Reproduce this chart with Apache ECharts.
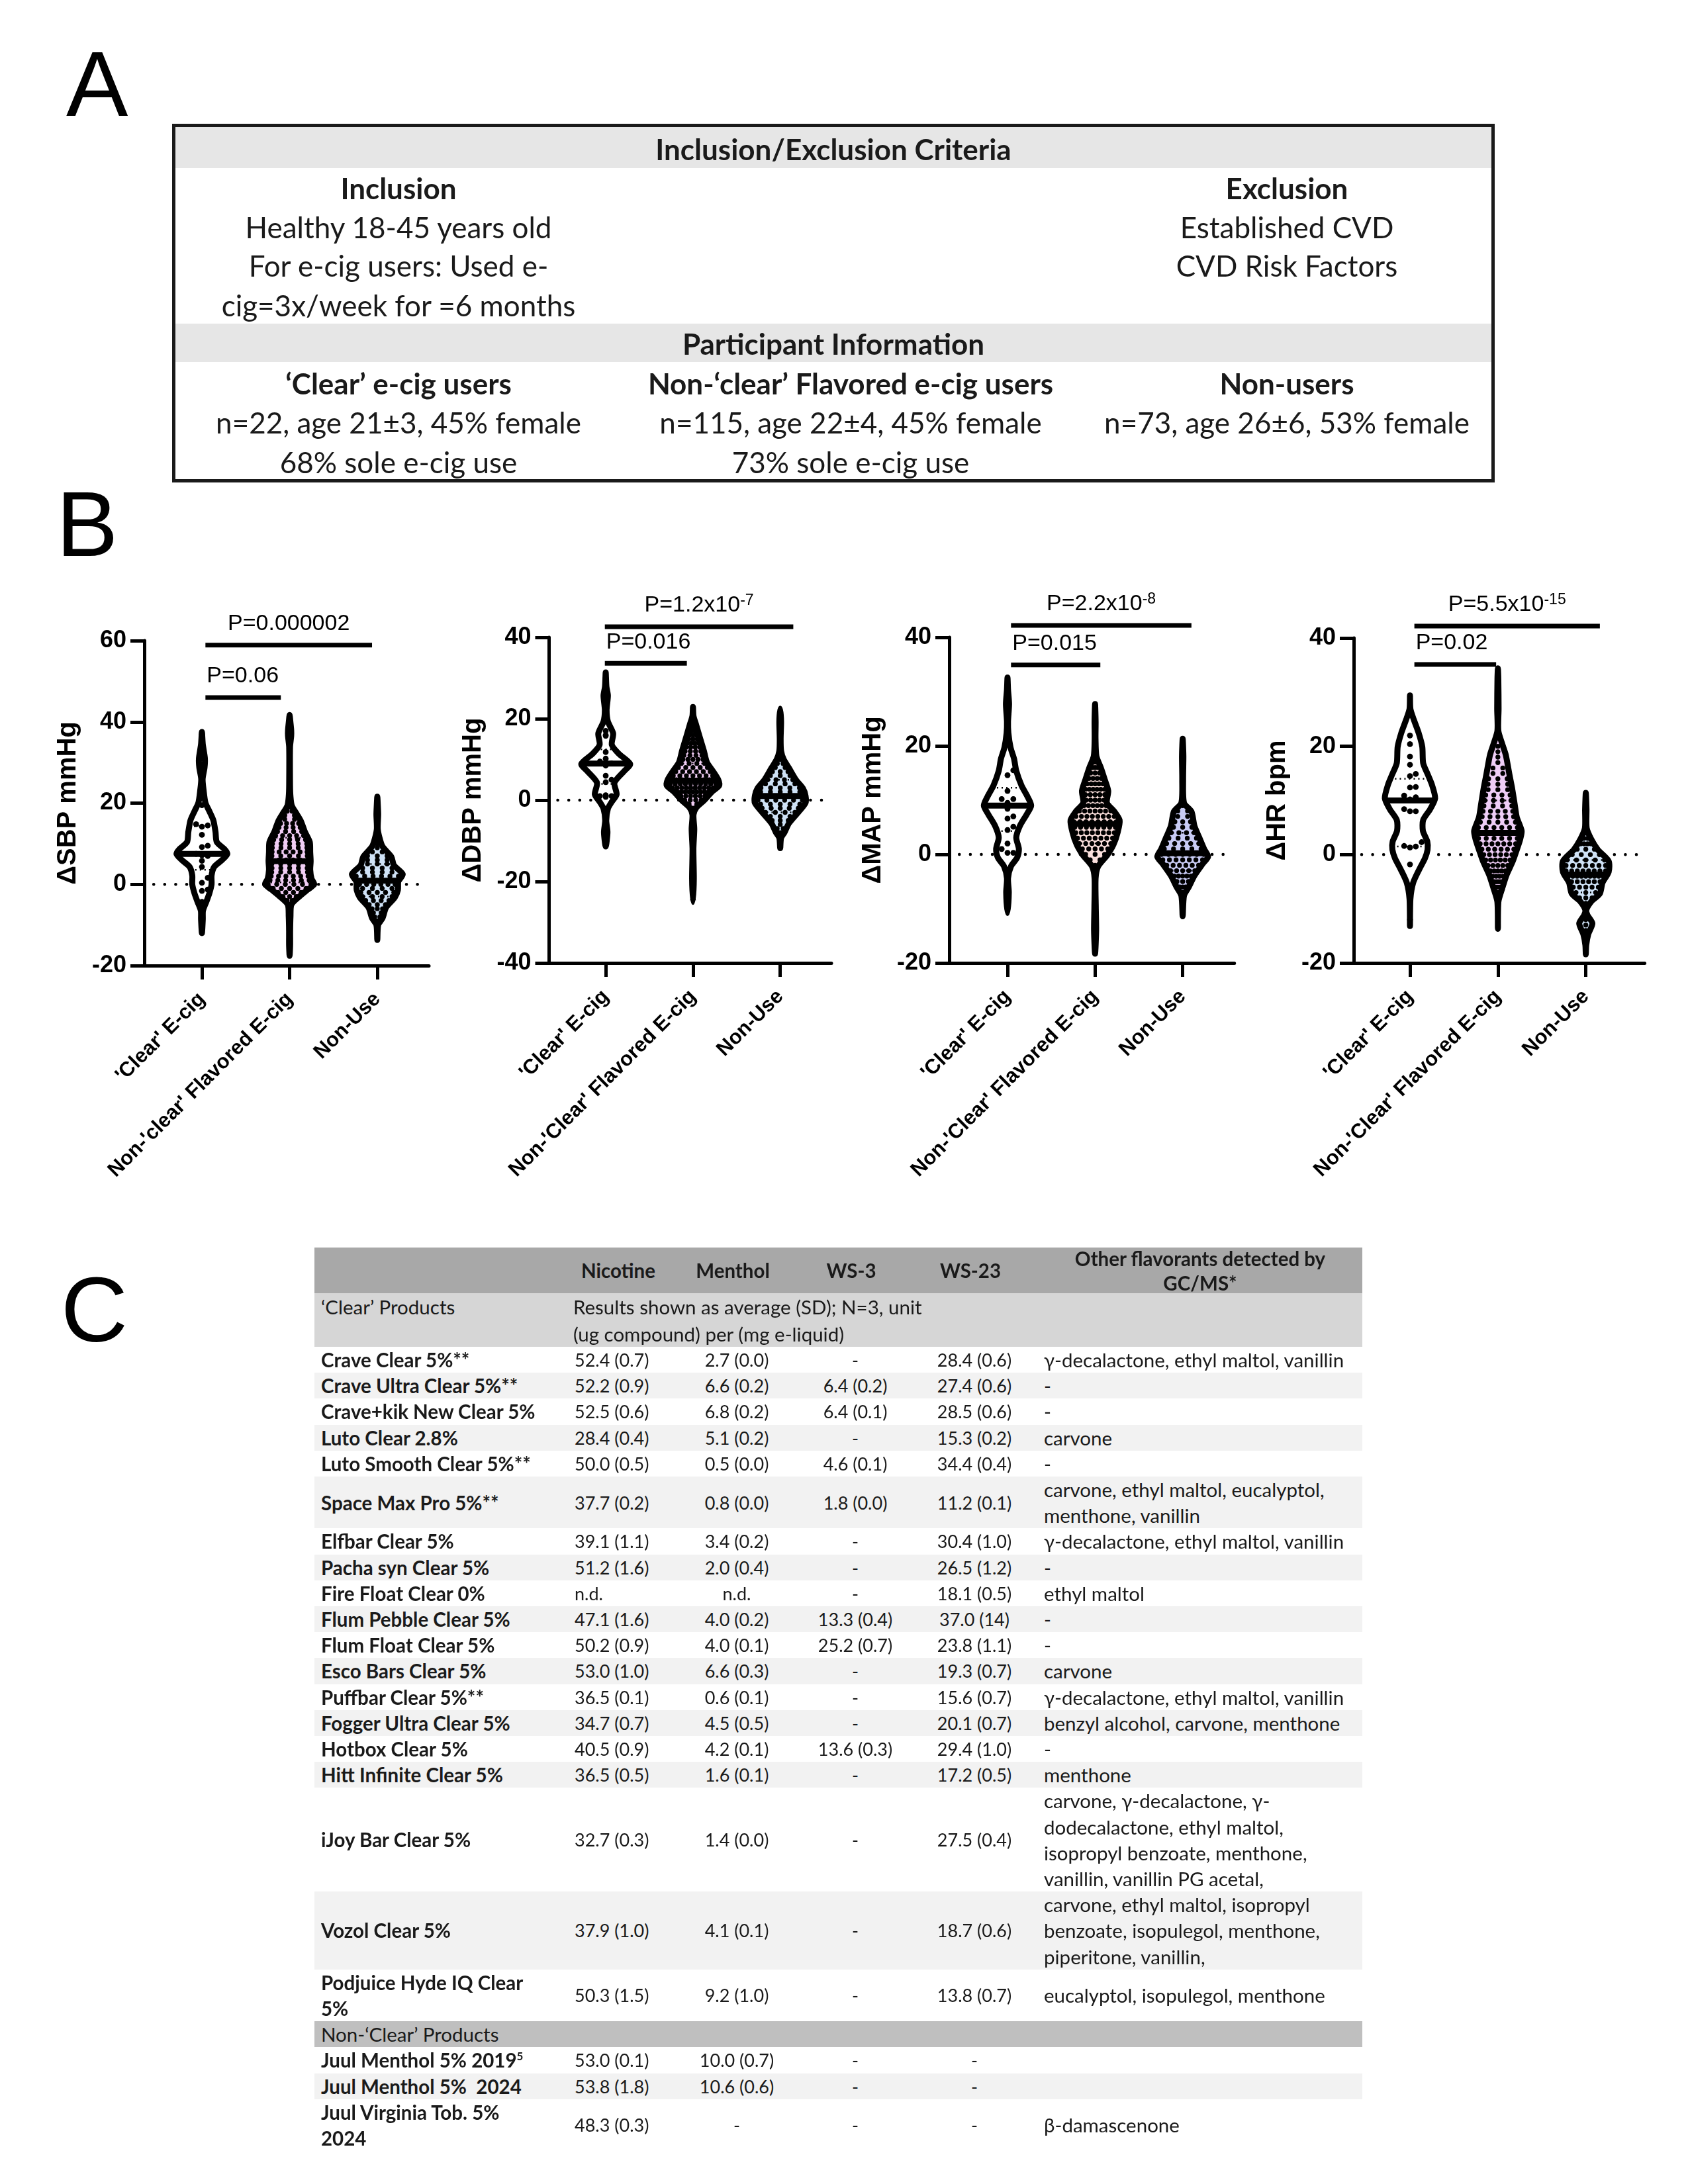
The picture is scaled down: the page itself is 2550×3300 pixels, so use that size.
<!DOCTYPE html>
<html><head><meta charset="utf-8">
<script src="https://cdn.jsdelivr.net/npm/echarts@6.0.0/dist/echarts.min.js"></script>
<style>
html,body{margin:0;padding:0;background:#fff}
body{width:2550px;height:3300px;position:relative;overflow:hidden}
#chart{position:absolute;left:0;top:0;width:2550px;height:3300px;z-index:0}
.abs{position:absolute;white-space:nowrap}
.lbl{font-family:'Liberation Sans',Arial,sans-serif;font-size:140px;line-height:140px;color:#000;z-index:3}
.ta{font-family:Lato,'Open Sans',sans-serif;font-size:44px;color:#1a1a1a;text-align:center;z-index:3}
.tc{font-family:Lato,'Open Sans',sans-serif;font-size:29.5px;color:#1a1a1a;z-index:3}
.num{font-size:27px}
.bg{z-index:2}
sup{font-size:17px;line-height:0;vertical-align:super}
</style></head><body>
<div id="chart"></div>
<script>
// ================= DATA =================
// ---- Panel A ----
const criteriaTitle = "Inclusion/Exclusion Criteria";
const inclusionHead = "Inclusion";
const inclusionLines = ["Healthy 18-45 years old", "For e-cig users: Used e-", "cig=3x/week for =6 months"];
const exclusionHead = "Exclusion";
const exclusionLines = ["Established CVD", "CVD Risk Factors"];
const participantTitle = "Participant Information";
const groupHeads = ["‘Clear’ e-cig users", "Non-‘clear’ Flavored e-cig users", "Non-users"];
const groupInfo1 = ["n=22, age 21±3, 45% female", "n=115, age 22±4, 45% female", "n=73, age 26±6, 53% female"];
const groupInfo2 = ["68% sole e-cig use", "73% sole e-cig use", ""];

// ---- Panel B ----
const catsSBP = ["'Clear' E-cig", "Non-'clear' Flavored E-cig", "Non-Use"];
const catsOther = ["'Clear' E-cig", "Non-'Clear' Flavored E-cig", "Non-Use"];
const yTitles = ["ΔSBP mmHg", "ΔDBP mmHg", "ΔMAP mmHg", "ΔHR bpm"];
const yMins = [-20, -40, -20, -20];
const yMaxs = [60, 40, 40, 40];
const yTickStep = 20;
const binWidth = 1;

// violin outlines: [value, half-width in category units], bottom to top
const sbpClearOutline = [[-12,0],[-8.6,0.01],[-6.5,0.012],[-4.3,0.05],[-2.2,0.085],[0,0.11],[2.2,0.11],[4.3,0.14],[6.1,0.235],[7.5,0.29],[8.6,0.26],[10.4,0.17],[12.9,0.155],[15.8,0.13],[18,0.085],[20.1,0.04],[23,0.02],[25.9,0.008],[28.8,0.03],[31,0.034],[34.5,0.01],[37.5,0]];
const sbpNonClearOutline = [[-17.6,0],[-15,0.006],[-11.5,0.006],[-7.9,0.01],[-5,0.02],[-3.2,0.1],[-1.4,0.2],[0,0.28],[1.4,0.25],[3.6,0.235],[5.7,0.24],[7.9,0.235],[10.4,0.23],[12.9,0.175],[15.5,0.13],[17.2,0.085],[19.4,0.025],[21.6,0.01],[24.4,0.005],[33.8,0.005],[36.5,0.018],[38,0.018],[40.2,0.008],[41.7,0]];
const sbpNonUseOutline = [[-13.7,0],[-10,0.01],[-8.3,0.06],[-5.7,0.1],[-3.2,0.2],[-1.4,0.235],[0.7,0.24],[2.5,0.29],[4.7,0.19],[6.8,0.16],[9.3,0.06],[11.5,0.025],[13.7,0.005],[17.2,0.01],[19.5,0.006],[21.6,0]];
const dbpClearOutline = [[-11.4,0],[-7.9,0.02],[-5,0.006],[-2.1,0.025],[-0.4,0.07],[1.4,0.125],[4.3,0.1],[7.1,0.21],[8.9,0.28],[11.4,0.15],[13.6,0.07],[16.4,0.085],[19.3,0.025],[22.1,0.01],[25.7,0.025],[27.9,0.008],[31.4,0]];
const dbpNonClearOutline = [[-25,0],[-19.3,0.01],[-12,0.005],[-7.1,0.015],[-3.6,0.006],[-1.8,0.04],[0,0.13],[2.1,0.22],[3.6,0.3],[5,0.29],[7.1,0.23],[9.3,0.16],[12.1,0.125],[15.7,0.075],[18.6,0.035],[20.7,0.006],[22.9,0]];
const dbpNonUseOutline = [[-11.8,0],[-9.3,0.01],[-7.9,0.05],[-5.7,0.1],[-2.9,0.21],[-0.7,0.29],[1.1,0.29],[2.9,0.26],[5,0.18],[7.9,0.1],[10,0.04],[12.1,0.01],[15,0.005],[19.3,0.01],[22.5,0]];
const mapClearOutline = [[-10.8,0],[-7,0.015],[-4.4,0.006],[-2.2,0.04],[-0.6,0.11],[1,0.13],[3.1,0.1],[5.2,0.14],[7.4,0.22],[9,0.27],[10.6,0.23],[12.7,0.16],[15.4,0.1],[17.6,0.075],[19.7,0.035],[22.4,0.01],[24.5,0.006],[27.7,0.018],[30.4,0.006],[32.6,0]];
const mapNonClearOutline = [[-18.3,0],[-14,0.012],[-9.7,0.008],[-4.4,0.006],[-2.2,0.035],[-0.1,0.14],[1.8,0.21],[4.2,0.26],[6.3,0.28],[7.9,0.22],[9.5,0.135],[11.7,0.15],[13.8,0.11],[16,0.065],[18.1,0.015],[21.3,0.005],[24.5,0.006],[27.7,0]];
const mapNonUseOutline = [[-11.4,0],[-7.6,0.015],[-6,0.07],[-3.9,0.135],[-1.7,0.23],[-0.4,0.29],[1,0.245],[3.1,0.19],[5.2,0.135],[7.9,0.1],[9.5,0.015],[13.8,0.005],[18.1,0.008],[21.3,0]];
const hrClearOutline = [[-13.2,0],[-8.2,0.005],[-5.2,0.036],[-2.7,0.106],[-0.7,0.17],[0.9,0.2],[2.4,0.197],[4.4,0.147],[6.4,0.15],[8.4,0.23],[10.4,0.286],[12.9,0.25],[14.9,0.2],[16.9,0.15],[19.9,0.14],[22.4,0.1],[24.9,0.044],[26.9,0.005],[29.4,0]];
const hrNonClearOutline = [[-13.7,0],[-8.7,0.006],[-6.2,0.05],[-3.7,0.1],[-1.2,0.17],[0.9,0.215],[2.9,0.255],[4.4,0.27],[6.9,0.215],[9.4,0.19],[12.4,0.16],[14.9,0.13],[18.4,0.09],[20.4,0.05],[22.9,0.005],[26.9,0.008],[32.4,0.005],[34.4,0]];
const hrNonUseOutline = [[-18.4,0],[-16.7,0.005],[-14.7,0.028],[-12.7,0.075],[-11.2,0.02],[-10.2,0.006],[-8.7,0.06],[-7.2,0.16],[-5.2,0.19],[-3.2,0.26],[-1.2,0.26],[0.9,0.137],[2.9,0.06],[4.9,0.01],[8.4,0.008],[11.4,0]];

// individual points of the 'Clear' groups
const sbpClearDots = [37,31,29.5,22,19.5,14.8,14.5,14.2,12.2,9.5,9.2,7.5,7.2,7,5.8,4.3,1.6,0.4,-1.3,-1.6,-4.3,-11];
const dbpClearDots = [30,26.5,23,17,16,15.8,11.8,10.2,9.5,9,8.5,6,5,4.4,1.2,1.1,1,1,0.8,-4.5,-6,-10.5];
const mapClearDots = [31,27,26,21,15.5,14.6,11.7,10.2,10.2,9.5,8.4,7,6.6,5.1,4.5,2,1,0.3,0.3,-5,-7,-10];
const hrClearDots = [27,22,20.4,18.1,16.6,14.9,14.5,12.5,12.4,10.9,10.6,10.2,8.4,8,8,2.3,1.6,1.5,1.3,-1.8,-6.5,-12];

// point counts per 1-unit bin (first bin centre given) for the larger groups
const sbpNonClearBinStart = -17, sbpNonClearCounts = [1,0,0,0,1,0,1,0,1,0,1,1,2,2,3,4,5,6,6,6,5,5,5,6,5,6,5,5,5,5,4,4,4,2,2,2,1,1,1,0,0,0,0,0,0,0,0,0,0,0,0,0,0,1,0,0,0,0,1];
const sbpNonUseBinStart = -13, sbpNonUseCounts = [1,0,1,1,1,2,2,3,3,4,4,5,4,6,4,6,4,4,3,3,3,2,1,1,1,1,0,0,0,1,0,1,0,0,1];
const dbpNonClearBinStart = -24, dbpNonClearCounts = [1,0,0,0,1,0,0,0,0,0,0,0,0,0,0,0,1,0,1,0,1,1,1,2,4,6,9,10,10,9,7,6,5,4,5,4,4,4,4,3,3,2,2,2,1,1,1,0];
const dbpNonUseBinStart = -11, dbpNonUseCounts = [1,1,1,2,2,1,3,3,4,5,5,6,6,5,5,4,4,3,3,2,2,1,1,1,0,0,0,0,0,1,0,1];
const mapNonClearBinStart = -18, mapNonClearCounts = [1,0,0,0,1,0,0,0,1,0,0,0,1,1,1,2,1,2,3,5,6,7,8,8,8,8,7,6,5,5,6,5,4,3,3,1,1,1,1,0,1,0,1,0,1];
const mapNonUseBinStart = -10, mapNonUseCounts = [1,0,2,2,3,3,5,5,6,7,7,5,5,4,4,3,3,2,2,1,0,0,0,0,1,0,0,0,1,0,1];
const hrNonClearBinStart = -12, hrNonClearCounts = [1,0,1,0,1,2,3,4,4,5,5,6,6,6,7,6,6,6,5,5,5,4,4,4,3,3,3,2,2,1,1,1,1,0,0,0,0,0,0,0,1,0,0,0,0,0,1];
const hrNonUseBinStart = -18, hrNonUseCounts = [1,0,0,0,1,1,1,1,1,1,3,3,5,6,9,8,7,5,4,3,4,2,2,1,1,1,1,1,1];

// medians and quartiles [Clear, Non-clear, Non-use]
const sbpMedians = [7.5, 5.7, 0.9], sbpQ1 = [3.6, 0.5, -3], sbpQ3 = [14.3, 11.5, 5];
const dbpMedians = [9, 4.8, 1], dbpQ1 = [4, 2, -3], dbpQ3 = [12.5, 9, 5];
const mapMedians = [9, 5.6, 0.2], mapQ1 = [4.3, 2, -3], mapQ3 = [12.3, 11, 4];
const hrMedians = [10, 4, -3.7], hrQ1 = [1.5, -2, -7], hrQ3 = [14, 10, -1];

// significance brackets: [text, superscript, fromX, toX, level]
const sbpBrackets = [["P=0.06", "", 1.04, 1.90, 46], ["P=0.000002", "", 1.04, 2.94, 58.9]];
const dbpBrackets = [["P=0.016", "", 0.99, 1.93, 33.6], ["P=1.2x10", "-7", 0.99, 3.15, 42.6]];
const mapBrackets = [["P=0.015", "", 1.04, 2.06, 34.9], ["P=2.2x10", "-8", 1.04, 3.10, 42.2]];
const hrBrackets = [["P=0.02", "", 1.05, 1.98, 35.1], ["P=5.5x10", "-15", 1.05, 3.16, 42.2]];

// ---- Panel C ----
const tableHeads = ["Nicotine", "Menthol", "WS-3", "WS-23", "Other flavorants detected by<br>GC/MS*"];
const clearBandLabel = "‘Clear’ Products";
const clearBandNote = ["Results shown as average (SD); N=3, unit", "(ug compound) per (mg e-liquid)"];
const nonClearBandLabel = "Non-‘Clear’ Products";
const clearProducts = [
  ["Crave Clear 5%**", "52.4 (0.7)", "2.7 (0.0)", "-", "28.4 (0.6)", ["γ-decalactone, ethyl maltol, vanillin"]],
  ["Crave Ultra Clear 5%**", "52.2 (0.9)", "6.6 (0.2)", "6.4 (0.2)", "27.4 (0.6)", ["-"]],
  ["Crave+kik New Clear 5%", "52.5 (0.6)", "6.8 (0.2)", "6.4 (0.1)", "28.5 (0.6)", ["-"]],
  ["Luto Clear 2.8%", "28.4 (0.4)", "5.1 (0.2)", "-", "15.3 (0.2)", ["carvone"]],
  ["Luto Smooth Clear 5%**", "50.0 (0.5)", "0.5 (0.0)", "4.6 (0.1)", "34.4 (0.4)", ["-"]],
  ["Space Max Pro 5%**", "37.7 (0.2)", "0.8 (0.0)", "1.8 (0.0)", "11.2 (0.1)", ["carvone, ethyl maltol, eucalyptol,", "menthone, vanillin"]],
  ["Elfbar Clear 5%", "39.1 (1.1)", "3.4 (0.2)", "-", "30.4 (1.0)", ["γ-decalactone, ethyl maltol, vanillin"]],
  ["Pacha syn Clear 5%", "51.2 (1.6)", "2.0 (0.4)", "-", "26.5 (1.2)", ["-"]],
  ["Fire Float Clear 0%", "n.d.", "n.d.", "-", "18.1 (0.5)", ["ethyl maltol"]],
  ["Flum Pebble Clear 5%", "47.1 (1.6)", "4.0 (0.2)", "13.3 (0.4)", "37.0 (14)", ["-"]],
  ["Flum Float Clear 5%", "50.2 (0.9)", "4.0 (0.1)", "25.2 (0.7)", "23.8 (1.1)", ["-"]],
  ["Esco Bars Clear 5%", "53.0 (1.0)", "6.6 (0.3)", "-", "19.3 (0.7)", ["carvone"]],
  ["Puffbar Clear 5%**", "36.5 (0.1)", "0.6 (0.1)", "-", "15.6 (0.7)", ["γ-decalactone, ethyl maltol, vanillin"]],
  ["Fogger Ultra Clear 5%", "34.7 (0.7)", "4.5 (0.5)", "-", "20.1 (0.7)", ["benzyl alcohol, carvone, menthone"]],
  ["Hotbox Clear 5%", "40.5 (0.9)", "4.2 (0.1)", "13.6 (0.3)", "29.4 (1.0)", ["-"]],
  ["Hitt Infinite Clear 5%", "36.5 (0.5)", "1.6 (0.1)", "-", "17.2 (0.5)", ["menthone"]],
  ["iJoy Bar Clear 5%", "32.7 (0.3)", "1.4 (0.0)", "-", "27.5 (0.4)", ["carvone, γ-decalactone, γ-", "dodecalactone, ethyl maltol,", "isopropyl benzoate, menthone,", "vanillin, vanillin PG acetal,"]],
  ["Vozol Clear 5%", "37.9 (1.0)", "4.1 (0.1)", "-", "18.7 (0.6)", ["carvone, ethyl maltol, isopropyl", "benzoate, isopulegol, menthone,", "piperitone, vanillin,"]],
  ["Podjuice Hyde IQ Clear<br>5%", "50.3 (1.5)", "9.2 (1.0)", "-", "13.8 (0.7)", ["eucalyptol, isopulegol, menthone"]]
];
const nonClearProducts = [
  ["Juul Menthol 5% 2019<sup>5</sup>", "53.0 (0.1)", "10.0 (0.7)", "-", "-", [""]],
  ["Juul Menthol 5%&nbsp; 2024", "53.8 (1.8)", "10.6 (0.6)", "-", "-", [""]],
  ["Juul Virginia Tob. 5%<br>2024", "48.3 (0.3)", "-", "-", "-", ["β-damascenone"]]
];

// ================= HTML PANELS =================
function addDiv(cls, left, top, w, h, html, extra) {
  const d = document.createElement('div');
  d.className = 'abs ' + cls;
  d.style.left = left + 'px'; d.style.top = top + 'px';
  if (w != null) d.style.width = w + 'px';
  if (h != null) { d.style.height = h + 'px'; d.style.lineHeight = h + 'px'; }
  d.innerHTML = html;
  if (extra) Object.assign(d.style, extra);
  document.body.appendChild(d);
  return d;
}
function textA(cx, cy, html, bold) {
  addDiv('ta', cx - 600, cy - 30, 1200, 60, html, bold ? { fontWeight: '700' } : null);
}
addDiv('lbl', 100, 125 - 68, null, null, 'A');
addDiv('lbl', 85, 790 - 68, null, null, 'B');
addDiv('lbl', 92, 1977 - 68, null, null, 'C');

// Panel A table
addDiv('bg', 262, 192, 1994, 62, '', { background: '#e6e6e6' });
addDiv('bg', 262, 489, 1994, 58, '', { background: '#e6e6e6' });
addDiv('bg', 260, 187, 1998, 542, '', { border: '5px solid #1a1a1a', boxSizing: 'border-box', zIndex: 4 });
const colA = [602, 1285, 1944];
textA(1259, 225, criteriaTitle, true);
textA(colA[0], 284, inclusionHead, true);
textA(colA[2], 284, exclusionHead, true);
const rowYA = [343, 401, 461];
inclusionLines.forEach((t, i) => textA(colA[0], rowYA[i], t));
exclusionLines.forEach((t, i) => textA(colA[2], rowYA[i], t));
textA(1259, 519, participantTitle, true);
groupHeads.forEach((t, i) => textA(colA[i], 579, t, true));
groupInfo1.forEach((t, i) => textA(colA[i], 638, t));
groupInfo2.forEach((t, i) => { if (t) textA(colA[i], 698, t); });

// Panel C table
const tLeft = 475, tWidth = 1583, lineH = 39.2;
const colName = 485, colNic = 868, colMen = 1113, colWs3 = 1292, colWs23 = 1472, colFlav = 1577;
function cell(x, y, h, html, align, bold, lh, numeric) {
  const d = document.createElement('div');
  d.className = 'abs tc' + (numeric ? ' num' : '');
  d.style.top = y + 'px'; d.style.height = h + 'px';
  d.style.display = 'flex'; d.style.alignItems = 'center';
  d.style.lineHeight = (lh || lineH) + 'px';
  if (align === 'center') { d.style.left = (x - 250) + 'px'; d.style.width = '500px'; d.style.justifyContent = 'center'; d.style.textAlign = 'center'; }
  else d.style.left = x + 'px';
  if (bold) d.style.fontWeight = '700';
  const s = document.createElement('div'); s.innerHTML = html; d.appendChild(s);
  document.body.appendChild(d);
}
function band(y, h, color) { addDiv('bg', tLeft, y, tWidth, h, '', { background: color }); }
band(1885, 69, '#a8a8a8');
cell(934, 1885, 69, tableHeads[0], 'center', true);
cell(colMen - 6, 1885, 69, tableHeads[1], 'center', true);
cell(colWs3 - 6, 1885, 69, tableHeads[2], 'center', true);
cell(colWs23 - 6, 1885, 69, tableHeads[3], 'center', true);
cell(1813, 1885, 69, tableHeads[4], 'center', true, 37);
band(1954, 81, '#d6d6d6');
cell(colName, 1954, 42, clearBandLabel, 'left', false);
cell(colNic - 2, 1954, 81, clearBandNote.join('<br>'), 'left', false, 41);
function productRows(rows, yStart) {
  let y = yStart;
  rows.forEach((r, i) => {
    const lines = Math.max(r[5].length, r[0].split('<br>').length);
    const h = lines * lineH;
    if (i % 2 === 1) band(y, h, '#f2f2f2');
    cell(colName, y, h, r[0], 'left', true);
    cell(colNic, y, h, r[1], 'left', false, null, true);
    cell(colMen, y, h, r[2], 'center', false, null, true);
    cell(colWs3, y, h, r[3], 'center', false, null, true);
    cell(colWs23, y, h, r[4], 'center', false, null, true);
    cell(colFlav, y, h, r[5].join('<br>'), 'left', false);
    y += h;
  });
  return y;
}
let yC = productRows(clearProducts, 2035);
band(yC, lineH, '#bfbfbf');
cell(colName, yC, lineH, nonClearBandLabel, 'left', false);
yC += lineH;
productRows(nonClearProducts, yC);

// ================= ECHARTS PANEL B =================
const layouts = [
  { left: 218, top: 968, width: 430, height: 491, xmin: 0.343, xmax: 3.589 },
  { left: 829.5, top: 963, width: 426.5, height: 492, xmin: 0.351, xmax: 3.587 },
  { left: 1434, top: 963, width: 430.7, height: 492, xmin: 0.335, xmax: 3.59 },
  { left: 2045, top: 964, width: 439.6, height: 491, xmin: 0.36, xmax: 3.67 }
];
const fillSets = [
  ['#ffffff', '#f0cdf4', '#cfe2f6'],
  ['#ffffff', '#f0cdf4', '#cfe2f6'],
  ['#ffffff', '#fbe0dd', '#c8cbf4'],
  ['#ffffff', '#eecdf6', '#cfe2f6']
];
const plots = [
  { cats: catsSBP, outlines: [sbpClearOutline, sbpNonClearOutline, sbpNonUseOutline], clearDots: sbpClearDots,
    counts: [sbpNonClearCounts, sbpNonUseCounts], starts: [sbpNonClearBinStart, sbpNonUseBinStart],
    medians: sbpMedians, q1: sbpQ1, q3: sbpQ3, brackets: sbpBrackets },
  { cats: catsOther, outlines: [dbpClearOutline, dbpNonClearOutline, dbpNonUseOutline], clearDots: dbpClearDots,
    counts: [dbpNonClearCounts, dbpNonUseCounts], starts: [dbpNonClearBinStart, dbpNonUseBinStart],
    medians: dbpMedians, q1: dbpQ1, q3: dbpQ3, brackets: dbpBrackets },
  { cats: catsOther, outlines: [mapClearOutline, mapNonClearOutline, mapNonUseOutline], clearDots: mapClearDots,
    counts: [mapNonClearCounts, mapNonUseCounts], starts: [mapNonClearBinStart, mapNonUseBinStart],
    medians: mapMedians, q1: mapQ1, q3: mapQ3, brackets: mapBrackets },
  { cats: catsOther, outlines: [hrClearOutline, hrNonClearOutline, hrNonUseOutline], clearDots: hrClearDots,
    counts: [hrNonClearCounts, hrNonUseCounts], starts: [hrNonClearBinStart, hrNonUseBinStart],
    medians: hrMedians, q1: hrQ1, q3: hrQ3, brackets: hrBrackets }
];

function hwAt(prof, y) {
  if (y <= prof[0][0]) return prof[0][1];
  for (let i = 0; i < prof.length - 1; i++) {
    const a = prof[i], b = prof[i + 1];
    if (y >= a[0] && y <= b[0]) return a[1] + (b[1] - a[1]) * (y - a[0]) / (b[0] - a[0]);
  }
  return prof[prof.length - 1][1];
}
const FONT = "'Liberation Sans', Arial, sans-serif";
const STROKE = 9;
const CLEAR_R = 4.4, CLEAR_D = 8.8;   // visible individual points
const BIG_R = 3.7, BIG_D = 7.4;       // dense groups

function makeViolinRender(p, fills) {
  return function (params, api) {
    const g = params.dataIndex;
    const cx = g + 1;
    const prof = p.outlines[g];
    const unitPx = api.size([1, 0])[0];
    const right = prof.map(q => api.coord([cx + q[1], q[0]]));
    const left = prof.slice(1, -1).reverse().map(q => api.coord([cx - q[1], q[0]]));
    const children = [{
      type: 'polygon', shape: { points: right.concat(left), smooth: 0.25 },
      style: { fill: fills[g], stroke: '#000', lineWidth: STROKE, lineJoin: 'round' }
    }];
    if (g === 0) {
      const vals = p.clearDots.slice().sort((a, b) => a - b);
      const placed = [];
      const free = (x, y) => placed.every(o => Math.hypot(o[0] - x, o[1] - y) >= CLEAR_D * 0.95);
      vals.forEach(v => {
        const pt = api.coord([cx, v]);
        const maxOff = Math.max(0, hwAt(prof, v) * unitPx - CLEAR_R + 2);
        let off = 0;
        if (!free(pt[0], pt[1])) {
          for (let k = 1; k < 30; k++) {
            const cand = (k % 2 ? 1 : -1) * Math.ceil(k / 2) * CLEAR_D;
            if (Math.abs(cand) > maxOff) { off = 0; break; }
            if (free(pt[0] + cand, pt[1])) { off = cand; break; }
          }
        }
        placed.push([pt[0] + off, pt[1]]);
      });
      placed.forEach(o => children.push({ type: 'circle', shape: { cx: o[0], cy: o[1], r: CLEAR_R }, style: { fill: '#000' } }));
    } else {
      const counts = p.counts[g - 1], start = p.starts[g - 1];
      counts.forEach((n, i) => {
        if (!n) return;
        const y = start + i * binWidth;
        const c = api.coord([cx, y]);
        const wpx = 2 * hwAt(prof, y) * unitPx - 2;
        const s = n > 1 ? Math.min(BIG_D * 2, Math.max(2, (wpx - BIG_D) / (n - 1))) : 0;
        for (let k = 0; k < n; k++) {
          children.push({ type: 'circle', shape: { cx: c[0] + (k - (n - 1) / 2) * s, cy: c[1], r: BIG_R }, style: { fill: '#000' } });
        }
      });
    }
    [p.q1[g], p.q3[g]].forEach(v => {
      const h = hwAt(prof, v);
      const a = api.coord([cx - h, v]), b = api.coord([cx + h, v]);
      children.push({ type: 'line', shape: { x1: a[0], y1: a[1], x2: b[0], y2: b[1] }, style: { stroke: '#000', lineWidth: 2.5, lineDash: [2, 5] } });
    });
    const m = p.medians[g], hm = hwAt(prof, m);
    const a = api.coord([cx - hm, m]), b = api.coord([cx + hm, m]);
    children.push({ type: 'line', shape: { x1: a[0], y1: a[1], x2: b[0], y2: b[1] }, style: { stroke: '#000', lineWidth: STROKE } });
    return { type: 'group', children };
  };
}
function makeBracketRender(p) {
  return function (params, api) {
    const b = p.brackets[params.dataIndex];
    const a = api.coord([b[2], b[4]]), c = api.coord([b[3], b[4]]);
    const isLong = params.dataIndex === 1;
    const txt = b[1] ? '{m|' + b[0] + '}{s|' + b[1] + '}' : '{m|' + b[0] + '}';
    return {
      type: 'group', children: [
        { type: 'line', shape: { x1: a[0], y1: a[1], x2: c[0], y2: c[1] }, style: { stroke: '#000', lineWidth: 7 } },
        { type: 'text', x: isLong ? (a[0] + c[0]) / 2 : a[0] + 2, y: a[1] - 15,
          style: { text: txt, align: isLong ? 'center' : 'left', verticalAlign: 'bottom',
            rich: { m: { fontSize: 34, fontFamily: FONT, fill: '#000', verticalAlign: 'bottom' },
                    s: { fontSize: 23, fontFamily: FONT, fill: '#000', verticalAlign: 'bottom', padding: [0, 0, 13, 0] } } } }
      ]
    };
  };
}

const option = {
  animation: false,
  textStyle: { fontFamily: FONT },
  grid: layouts.map(l => ({ left: l.left, top: l.top, width: l.width, height: l.height, containLabel: false })),
  xAxis: layouts.map((l, i) => ({
    type: 'value', gridIndex: i, min: l.xmin, max: l.xmax,
    splitLine: { show: false },
    axisLine: { show: true, onZero: false, lineStyle: { color: '#000', width: 5 } },
    axisTick: { show: true, customValues: [1, 2, 3], length: 21, lineStyle: { color: '#000', width: 5 } },
    axisLabel: { show: true, customValues: [1, 2, 3], rotate: 45, margin: 46, fontSize: 31, fontWeight: 'bold', color: '#000', fontFamily: FONT,
      formatter: v => plots[i].cats[Math.round(v) - 1] }
  })),
  yAxis: layouts.map((l, i) => ({
    type: 'value', gridIndex: i, min: yMins[i], max: yMaxs[i], interval: yTickStep,
    splitLine: { show: false },
    axisLine: { show: true, onZero: false, lineStyle: { color: '#000', width: 5 } },
    axisTick: { show: true, length: 21, lineStyle: { color: '#000', width: 5 } },
    axisLabel: { margin: 27, fontSize: 36, fontWeight: 'bold', color: '#000', fontFamily: FONT },
    name: yTitles[i], nameLocation: 'middle', nameGap: 95,
    nameTextStyle: { fontSize: 40, fontWeight: 'bold', color: '#000', fontFamily: FONT }
  })),
  series: []
};
plots.forEach((p, i) => {
  const l = layouts[i];
  option.series.push({
    type: 'line', xAxisIndex: i, yAxisIndex: i, silent: true, symbol: 'none', z: 1,
    data: [[0.45, 0], [l.xmax - 0.06, 0]],
    lineStyle: { color: '#000', width: 4.5, type: [0.1, 16.5], cap: 'round' }
  });
  option.series.push({
    type: 'custom', xAxisIndex: i, yAxisIndex: i, silent: true, z: 3, clip: false,
    data: [[1, 0], [2, 0], [3, 0]], encode: { x: 0, y: 1 },
    renderItem: makeViolinRender(p, fillSets[i])
  });
  option.series.push({
    type: 'custom', xAxisIndex: i, yAxisIndex: i, silent: true, z: 4, clip: false,
    data: p.brackets.map(b => [b[2], b[4]]), encode: { x: 0, y: 1 },
    renderItem: makeBracketRender(p)
  });
});
const chart = echarts.init(document.getElementById('chart'), null, { renderer: 'canvas' });
chart.setOption(option);
</script>
</body></html>
